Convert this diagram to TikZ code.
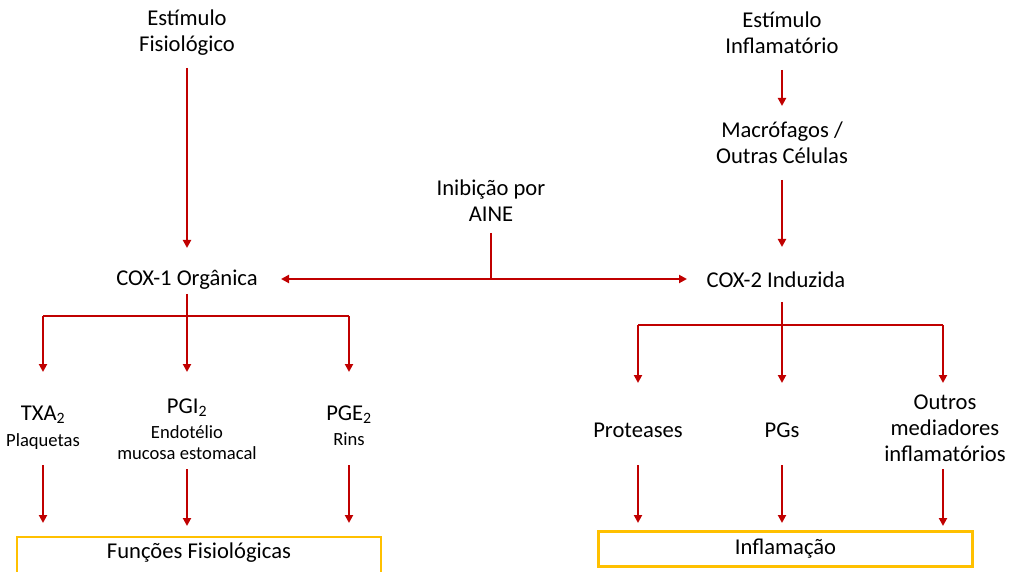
\documentclass[tikz,border=0pt]{standalone}
\usepackage{fontspec}
\setmainfont{Carlito}
\usetikzlibrary{arrows.meta}
\definecolor{cred}{HTML}{C00000}
\definecolor{cyel}{HTML}{FFC000}
\begin{document}
\begin{tikzpicture}[x=1pt,y=-1pt,
  lbl/.style={align=center,inner sep=0pt,font=\fontsize{22.6}{26}\selectfont},
  sml/.style={align=center,inner sep=0pt,font=\fontsize{18.6}{21}\selectfont},
  arr/.style={draw=cred,line width=2.6pt,-{Triangle[width=8pt,length=8pt]}},
  ln/.style={draw=cred,line width=2.6pt},
  outbox/.style={draw=cyel,line width=2.6pt,fill=white}]
\useasboundingbox (0,0) rectangle (1010,572);
% top texts
\node[lbl] (estf) at (187,33) {Estímulo\\Fisiológico};
\node[lbl] (esti) at (782,33) {Estímulo\\Inflamatório};
\node[lbl] (macro) at (782,143) {Macrófagos /\\Outras Células};
\node[lbl] (aine) at (491,201) {Inibição por\\AINE};
\node[lbl] (cox1) at (187,280) {COX-1 Orgânica};
\node[lbl] (cox2) at (776,280) {COX-2 Induzida};
% coordinates
\coordinate (f1) at (187,68);
\coordinate (f2) at (187,248);
\coordinate (i1) at (782,70);
\coordinate (i2) at (782,106);
\coordinate (m1) at (782,180);
\coordinate (m2) at (782,247);
\coordinate (a1) at (491,233);
\coordinate (a2) at (491,279);
\coordinate (al) at (281,279);
\coordinate (ar) at (687,279);
\draw[arr] (f1) -- (f2);
\draw[arr] (i1) -- (i2);
\draw[arr] (m1) -- (m2);
\draw[ln] (a1) -- (a2);
\draw[arr] (a2) -- (al);
\draw[arr] (a2) -- (ar);
% COX-1 branch
\coordinate (c1t) at (187,294);
\coordinate (c1l) at (43,316);
\coordinate (c1r) at (349,316);
\coordinate (c1lb) at (43,372);
\coordinate (c1mb) at (187,372);
\coordinate (c1rb) at (349,372);
\draw[ln] (c1l) -- (c1r);
\draw[arr] (c1t) -- (c1mb);
\draw[arr] (c1l) -- (c1lb);
\draw[arr] (c1r) -- (c1rb);
\node[lbl] (txa) at (43,415) {TXA\textsubscript{2}};
\node[sml,anchor=north] (plaq) at (43,433) {Plaquetas};
\node[lbl] (pgi) at (187,408) {PGI\textsubscript{2}};
\node[sml,anchor=north] (endo) at (187,425) {Endotélio\\mucosa estomacal};
\node[lbl] (pge) at (349,415) {PGE\textsubscript{2}};
\node[sml,anchor=north] (rins) at (349,433) {Rins};
\coordinate (t1a) at (43,465); \coordinate (t1b) at (43,523);
\coordinate (t2a) at (187,469); \coordinate (t2b) at (187,526);
\coordinate (t3a) at (349,465); \coordinate (t3b) at (349,523);
\draw[arr] (t1a) -- (t1b);
\draw[arr] (t2a) -- (t2b);
\draw[arr] (t3a) -- (t3b);
\draw[outbox] (17,537) rectangle (381,580);
\node[lbl] (funcs) at (199,553) {Funções Fisiológicas};
% COX-2 branch
\coordinate (c2t) at (782,302);
\coordinate (c2l) at (638,325);
\coordinate (c2r) at (943,325);
\coordinate (c2lb) at (638,383);
\coordinate (c2mb) at (782,383);
\coordinate (c2rb) at (943,383);
\draw[ln] (c2l) -- (c2r);
\draw[arr] (c2t) -- (c2mb);
\draw[arr] (c2l) -- (c2lb);
\draw[arr] (c2r) -- (c2rb);
\node[lbl] (prot) at (638,430) {Proteases};
\node[lbl] (pgs) at (782,430) {PGs};
\node[lbl] (outros) at (945,428) {Outros\\mediadores\\inflamatórios};
\coordinate (u1a) at (638,465); \coordinate (u1b) at (638,523);
\coordinate (u2a) at (782,465); \coordinate (u2b) at (782,523);
\coordinate (u3a) at (943,469); \coordinate (u3b) at (943,526);
\draw[arr] (u1a) -- (u1b);
\draw[arr] (u2a) -- (u2b);
\draw[arr] (u3a) -- (u3b);
\node[outbox,minimum width=374pt,minimum height=35pt,inner sep=0pt,font=\fontsize{22.6}{26}\selectfont] (infl) at (785.5,549) {Inflamação};
\end{tikzpicture}
\end{document}
